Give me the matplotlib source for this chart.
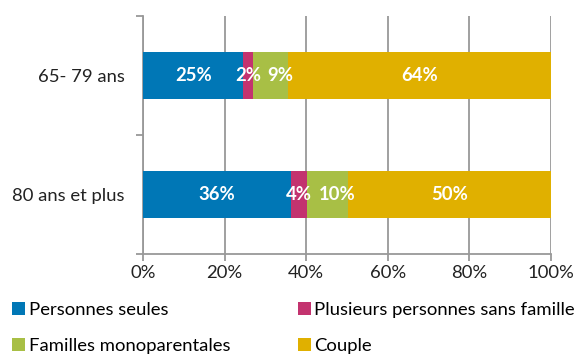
import matplotlib
matplotlib.use("Agg")
import matplotlib.pyplot as plt
from matplotlib.patches import Patch
import numpy as np

plt.rcParams['font.family'] = ['Lato', 'DejaVu Sans']

categories = ["65- 79 ans", "80 ans et plus"]
series_names = ["Personnes seules", "Plusieurs personnes sans famille",
                "Familles monoparentales", "Couple"]
personnes_seules = [24.6, 36.3]
plusieurs_personnes = [2.4, 3.9]
familles_mono = [8.6, 10.0]
couple = [64.4, 49.8]
series_values = [personnes_seules, plusieurs_personnes, familles_mono, couple]
colors = ["#0077B6", "#C3336F", "#A8BF45", "#E0B000"]
label_offsets = [0, 0, 7, 0]  # points, horizontal nudge of labels per series
x_ticks = [0, 20, 40, 60, 80, 100]
x_tick_labels = ["0%", "20%", "40%", "60%", "80%", "100%"]

FS = 13.3
LFS = 13.3

fig = plt.figure(figsize=(5.77, 3.58), dpi=100)
ax = fig.add_axes([143/577, 1-254/358, (551-143)/577, (254-16)/358])

ypos = np.arange(len(categories))
left = np.zeros(len(categories))
for name, vals, col, off in zip(series_names, series_values, colors, label_offsets):
    vals = np.array(vals)
    ax.barh(ypos, vals, left=left, height=0.4, color=col, zorder=3, label=name)
    for y, l, v in zip(ypos, left, vals):
        ax.annotate(f"{round(v):.0f}%", (l + v/2, y), xytext=(off, 0),
                    textcoords="offset points", ha="center", va="center",
                    color="white", fontsize=FS, fontweight="bold", zorder=4)
    left = left + vals

ax.set_xlim(0, 100)
ax.set_ylim(len(categories) - 0.5, -0.5)
ax.set_xticks(x_ticks)
ax.set_xticklabels(x_tick_labels, fontsize=FS, color="#222222")
ax.xaxis.grid(True, color="#999999", linewidth=1.3, zorder=0)
ax.tick_params(axis="x", length=5, width=1.3, color="#999999", pad=3)

ax.set_yticks(np.arange(-0.5, len(categories), 1.0))
ax.set_yticklabels([])
ax.set_yticks(ypos, minor=True)
ax.set_yticklabels(categories, minor=True, fontsize=FS, color="#222222")
ax.tick_params(axis="y", which="major", length=5, width=1.3, color="#999999")
ax.tick_params(axis="y", which="minor", length=0, pad=13)

for s in ["top", "right"]:
    ax.spines[s].set_visible(False)
for s in ["left", "bottom"]:
    ax.spines[s].set_color("#999999")
    ax.spines[s].set_linewidth(1.3)

order = [0, 2, 1, 3]  # row-major legend layout with 2 columns
handles = [Patch(facecolor=colors[i], edgecolor="none") for i in order]
labels = [series_names[i] for i in order]
fig.legend(handles, labels, loc="upper left",
           bbox_to_anchor=(12/577, 1-302/358), ncol=2, frameon=False,
           fontsize=LFS, handlelength=0.7, handleheight=0.7,
           handletextpad=0.2, columnspacing=3.66, labelspacing=1.1,
           borderaxespad=0, borderpad=0)

fig.savefig("out.png", dpi=100)
